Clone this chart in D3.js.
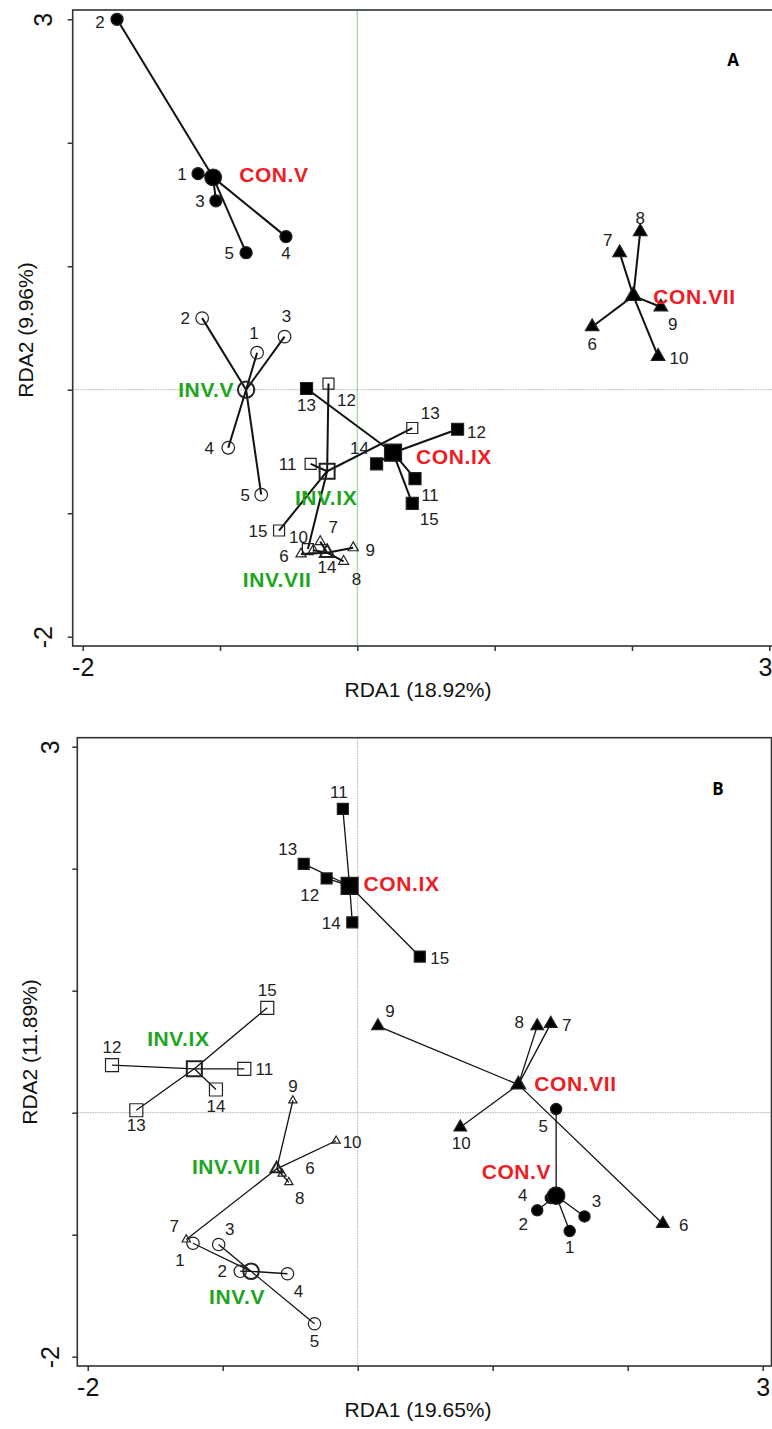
<!DOCTYPE html>
<html>
<head>
<meta charset="utf-8">
<script src="https://cdn.jsdelivr.net/npm/d3@7"></script>
<style>
  body { margin: 0; background: #fff; }
  text { font-family: "Liberation Sans", Arial, sans-serif; }
</style>
</head>
<body>
<script>
// ---- data ----
var groups = ["CON.V", "INV.V", "CON.VII", "INV.VII", "CON.IX", "INV.IX"];
var sampleGroup = ["CON.V","CON.V","CON.V","CON.V","CON.V",
                   "INV.V","INV.V","INV.V","INV.V","INV.V",
                   "CON.VII","CON.VII","CON.VII","CON.VII","CON.VII",
                   "INV.VII","INV.VII","INV.VII","INV.VII","INV.VII",
                   "CON.IX","CON.IX","CON.IX","CON.IX","CON.IX",
                   "INV.IX","INV.IX","INV.IX","INV.IX","INV.IX"];
var sampleId = [1,2,3,4,5, 1,2,3,4,5, 6,7,8,9,10, 6,7,8,9,10, 11,12,13,14,15, 11,12,13,14,15];
var axisTicks = [-2, -1, 0, 1, 2, 3];

// panel A
var aX = [-1.16,-1.75,-1.03,-0.52,-0.81,  -0.73,-1.13,-0.53,-0.94,-0.70,
          1.71,1.91,2.06,2.21,2.19,  -0.41,-0.27,-0.10,-0.03,-0.32,
          0.42,0.73,-0.37,0.14,0.40,  -0.34,-0.21,0.40,-0.36,-0.57];
var aY = [1.75,3.00,1.53,1.24,1.11,  0.30,0.58,0.43,-0.47,-0.85,
          0.51,1.11,1.28,0.67,0.27,  -1.33,-1.23,-1.39,-1.28,-1.30,
          -0.72,-0.32,0.01,-0.60,-0.92,  -0.60,0.05,-0.31,-1.29,-1.14];
var aCentX = [-1.05, -0.81, 2.01, -0.22, 0.26, -0.22];
var aCentY = [1.72, 0.00, 0.76, -1.32, -0.51, -0.66];

// panel B
var bX = [1.57,1.33,1.68,1.43,1.47,  -1.22,-0.87,-1.03,-0.52,-0.32,
          2.26,1.43,1.33,0.15,0.76,  -0.56,-1.27,-0.51,-0.48,-0.16,
          -0.11,-0.23,-0.40,-0.04,0.46,  -0.84,-1.82,-1.64,-1.05,-0.67];
var bY = [-0.97,-0.80,-0.85,-0.70,0.03,  -1.07,-1.30,-1.08,-1.32,-1.73,
          -0.91,0.73,0.71,0.71,-0.12,  -0.50,-1.04,-0.57,0.10,-0.23,
          2.49,1.92,2.04,1.56,1.28,  0.36,0.39,0.02,0.19,0.86];
var bCentX = [1.47, -0.79, 1.19, -0.60, -0.06, -1.21];
var bCentY = [-0.68, -1.30, 0.23, -0.46, 1.86, 0.36];

// ---- layout (label nudges in px) ----
var aLabelOff = [[-16,0],[-17,3],[-16,0],[0,16],[-17,0],
                 [-3,-20],[-17,0],[2,-21],[-19,0],[-16,0],
                 [0,17],[-12,-13],[0,-14],[12,17],[21,1],
                 [-17,2],[13,-15],[13,18],[17,2],[-15,-13],
                 [15,16],[19,3],[0,16],[-17,-16],[17,16],
                 [-23,0],[18,16],[18,-15],[19,18],[-21,0]];
var aGroupOff = [[26,-3,"start"],[-12,0,"end"],[20,1,"start"],[-50,27,"middle"],[23,4,"start"],[-1,26,"middle"]];

var bLabelOff = [[0,16],[-14,14],[12,-16],[-28,-3],[-13,17],
                 [-13,17],[-18,0],[11,-16],[11,17],[0,17],
                 [21,1],[16,1],[-18,-4],[12,-15],[1,16],
                 [28,-6],[-12,-14],[11,16],[0,-15],[16,1],
                 [-4,-17],[-17,16],[-16,-15],[-21,0],[20,1],
                 [20,0],[0,-18],[0,15],[0,16],[0,-18]];
var bGroupOff = [[-5,-24,"end"],[-14,25,"middle"],[16,-1,"start"],[-16,-2,"end"],[14,-2,"start"],[-16,-30,"middle"]];

var red = "#ee1d25", green = "#1ea51e";
var shapeOf = { "CON.V": d3.symbolCircle, "INV.V": d3.symbolCircle,
                "CON.VII": d3.symbolTriangle, "INV.VII": d3.symbolTriangle,
                "CON.IX": d3.symbolSquare, "INV.IX": d3.symbolSquare };

var svg = d3.select("body").append("svg")
    .attr("width", 772).attr("height", 1429);
svg.append("rect").attr("width", 772).attr("height", 1429).attr("fill", "#fff");

function drawPanel(p) {
  var x = d3.scaleLinear().domain([-2, 3]).range(p.xRange);
  var y = d3.scaleLinear().domain([-2, 3]).range(p.yRange);
  var g = svg.append("g");

  // reference lines at 0
  g.append("line")
    .attr("x1", x(0)).attr("x2", x(0)).attr("y1", p.top).attr("y2", p.bottom)
    .attr("stroke", p.vColor).attr("stroke-width", p.vWidth)
    .attr("stroke-dasharray", p.vDash);
  g.append("line")
    .attr("x1", p.left).attr("x2", p.right).attr("y1", y(0)).attr("y2", y(0))
    .attr("stroke", "#b0b0b0").attr("stroke-width", 1)
    .attr("stroke-dasharray", "1.5,1");

  // box
  g.append("rect")
    .attr("x", p.left).attr("y", p.top)
    .attr("width", p.right - p.left).attr("height", p.bottom - p.top)
    .attr("fill", "none").attr("stroke", "#333").attr("stroke-width", 1.6);

  var fmt = function(d) { return (d === -2 || d === 3) ? d : ""; };
  var xa = g.append("g").attr("transform", "translate(0," + p.bottom + ")")
    .call(d3.axisBottom(x).tickValues(axisTicks).tickSize(5).tickSizeOuter(0).tickFormat(fmt));
  var ya = g.append("g").attr("transform", "translate(" + p.left + ",0)")
    .call(d3.axisLeft(y).tickValues(axisTicks).tickSize(5).tickSizeOuter(0).tickFormat(fmt));
  [xa, ya].forEach(function(a) {
    a.select(".domain").remove();
    a.selectAll(".tick line").attr("stroke", "#333").attr("stroke-width", 1.5);
    a.selectAll(".tick text").attr("fill", "#111")
      .style("font-family", "'Liberation Sans', Arial, sans-serif").style("font-size", "25px");
  });
  xa.selectAll(".tick text").attr("y", 12).attr("dy", "0.71em")
    .filter(function(d) { return d === 3 && p.lastTickEnd; })
    .attr("text-anchor", "end").attr("x", 772 - x(3));
  ya.selectAll(".tick text")
    .attr("x", null).attr("dy", null)
    .attr("text-anchor", "middle")
    .attr("transform", "translate(" + (-p.yTickGap) + ",0) rotate(-90)")
    .attr("y", 9);

  // axis titles
  g.append("text").attr("x", p.xTitlePos[0]).attr("y", p.xTitlePos[1])
    .attr("text-anchor", "middle").attr("font-size", 21).attr("fill", "#111")
    .attr("dy", "0.35em").text(p.xTitle);
  g.append("text")
    .attr("transform", "translate(" + p.yTitlePos[0] + "," + p.yTitlePos[1] + ") rotate(-90)")
    .attr("text-anchor", "middle").attr("font-size", 21).attr("fill", "#111")
    .attr("dy", "0.35em").text(p.yTitle);

  // spider segments
  var segs = g.append("g");
  sampleGroup.forEach(function(grp, i) {
    var k = groups.indexOf(grp);
    segs.append("line")
      .attr("x1", x(p.cx[k])).attr("y1", y(p.cy[k]))
      .attr("x2", x(p.xs[i])).attr("y2", y(p.ys[i]))
      .attr("stroke", "#111").attr("stroke-width", p.segWidth);
  });

  function sym(grp, centroid) {
    var s = p.sizes[grp];
    return d3.symbol().type(shapeOf[grp]).size(centroid ? s[1] : s[0])();
  }
  function paint(sel, grp, centroid) {
    var filled = grp.indexOf("CON") === 0;
    sel.attr("fill", filled ? "#000" : "#fff")
      .attr("fill-opacity", filled ? 1 : 0)
      .attr("stroke", "#222")
      .attr("stroke-width", centroid && !filled ? 2 : 1.2);
  }

  // samples
  sampleGroup.forEach(function(grp, i) {
    var path = g.append("path")
      .attr("d", sym(grp, false))
      .attr("transform", "translate(" + x(p.xs[i]) + "," + y(p.ys[i]) + ")");
    paint(path, grp, false);
    g.append("text")
      .attr("x", x(p.xs[i]) + p.labelOff[i][0])
      .attr("y", y(p.ys[i]) + p.labelOff[i][1])
      .attr("text-anchor", "middle").attr("dy", "0.36em")
      .attr("font-size", 17).attr("fill", "#222")
      .text(sampleId[i]);
  });

  // centroids + group labels
  groups.forEach(function(grp, k) {
    var path = g.append("path")
      .attr("d", sym(grp, true))
      .attr("transform", "translate(" + x(p.cx[k]) + "," + y(p.cy[k]) + ")");
    paint(path, grp, true);
    var o = p.groupOff[k];
    g.append("text")
      .attr("x", x(p.cx[k]) + o[0]).attr("y", y(p.cy[k]) + o[1])
      .attr("text-anchor", o[2]).attr("dy", "0.36em")
      .attr("font-size", 21).attr("font-weight", "bold")
      .attr("letter-spacing", 0.6)
      .attr("fill", grp.indexOf("CON") === 0 ? red : green)
      .text(grp);
  });

  g.append("text").attr("x", p.letterPos[0]).attr("y", p.letterPos[1])
    .attr("text-anchor", "middle").attr("dy", "0.36em")
    .style("font-family", "'Open Sans', sans-serif")
    .attr("font-size", 17).attr("font-weight", "bold").text(p.letter);
}

drawPanel({
  xRange: [82.7, 769.3], yRange: [636.7, 19.3],
  left: 72.7, right: 779, top: 10, bottom: 646,
  xs: aX, ys: aY, cx: aCentX, cy: aCentY,
  labelOff: aLabelOff, groupOff: aGroupOff,
  vColor: "#aadcaa", vWidth: 1.4, vDash: null,
  segWidth: 2,
  yTickGap: 30,
  lastTickEnd: true,
  sizes: { "CON.V": [115, 220], "INV.V": [125, 210], "CON.VII": [80, 110],
           "INV.VII": [45, 90], "CON.IX": [144, 289], "INV.IX": [121, 225] },
  xTitle: "RDA1 (18.92%)", xTitlePos: [418, 690],
  yTitle: "RDA2 (9.96%)", yTitlePos: [26, 330],
  letter: "A", letterPos: [733, 60]
});

drawPanel({
  xRange: [87.7, 762.7], yRange: [1356.7, 746.7],
  left: 77.3, right: 771.5, top: 737.7, bottom: 1366,
  xs: bX, ys: bY, cx: bCentX, cy: bCentY,
  labelOff: bLabelOff, groupOff: bGroupOff,
  vColor: "#b0b0b0", vWidth: 1, vDash: "1.5,1",
  segWidth: 1.3,
  yTickGap: 27,
  lastTickEnd: false,
  sizes: { "CON.V": [100, 240], "INV.V": [120, 190], "CON.VII": [70, 95],
           "INV.VII": [30, 65], "CON.IX": [121, 289], "INV.IX": [169, 225] },
  xTitle: "RDA1 (19.65%)", xTitlePos: [418, 1410],
  yTitle: "RDA2 (11.89%)", yTitlePos: [30, 1052],
  letter: "B", letterPos: [718, 789]
});
</script>
</body>
</html>
